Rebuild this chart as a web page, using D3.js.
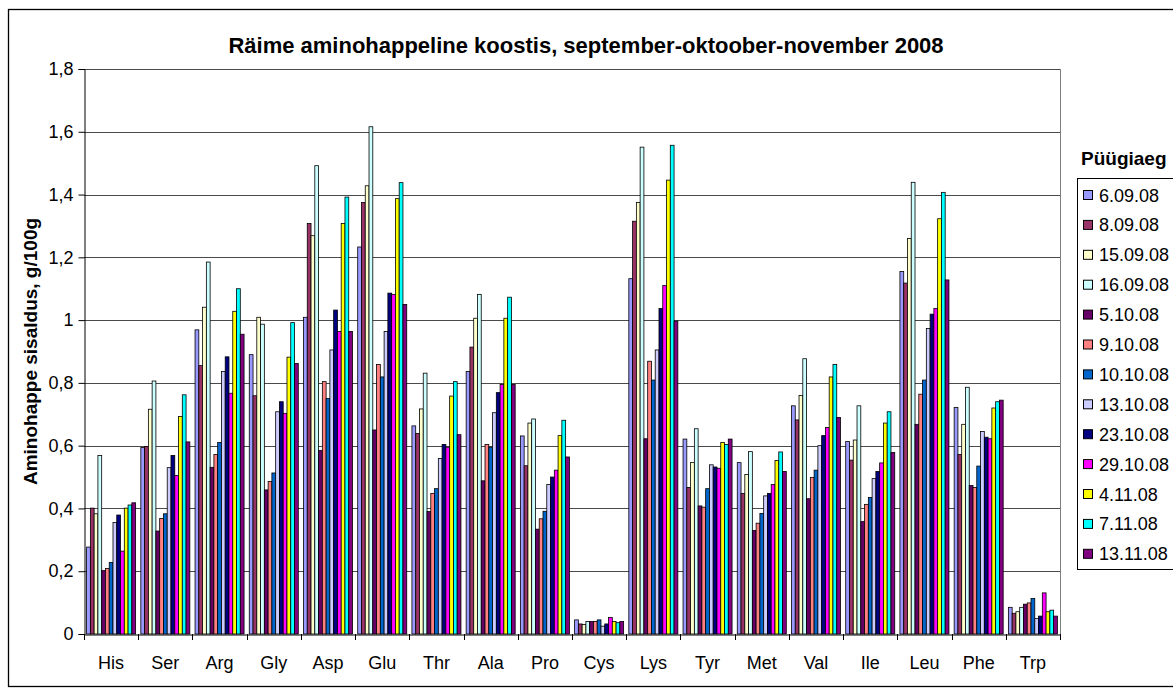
<!DOCTYPE html>
<html><head><meta charset="utf-8">
<script src="https://cdn.jsdelivr.net/npm/d3@7"></script>
<style>body{margin:0;background:#fff}svg{display:block}text{font-family:"Liberation Sans",Arial,sans-serif}</style>
</head><body><svg id="c" width="1173" height="695"></svg>
<script>
const categories = ["His","Ser","Arg","Gly","Asp","Glu","Thr","Ala","Pro","Cys","Lys","Tyr","Met","Val","Ile","Leu","Phe","Trp"];
const seriesNames = ["6.09.08","8.09.08","15.09.08","16.09.08","5.10.08","9.10.08","10.10.08","13.10.08","23.10.08","29.10.08","4.11.08","7.11.08","13.11.08"];
const seriesColors = ["#9999FF","#993366","#FFFFCC","#CCFFFF","#660066","#FF8080","#0066CC","#CCCCFF","#000080","#FF00FF","#FFFF00","#00FFFF","#800080"];
const yTicks = [0,0.2,0.4,0.6,0.8,1,1.2,1.4,1.6,1.8];

const s_06_09 = [0.277,0.594,0.969,0.890,1.009,1.233,0.663,0.836,0.631,0.045,1.132,0.621,0.546,0.727,0.613,1.155,0.722,0.085];
const s_08_09 = [0.401,0.597,0.855,0.759,1.308,1.375,0.639,0.914,0.536,0.032,1.315,0.467,0.448,0.682,0.554,1.118,0.572,0.066];
const s_15_09 = [0.383,0.716,1.041,1.009,1.269,1.428,0.717,1.006,0.672,0.030,1.375,0.546,0.508,0.760,0.618,1.260,0.668,0.071];
const s_16_09 = [0.569,0.806,1.185,0.987,1.492,1.616,0.831,1.082,0.685,0.040,1.551,0.654,0.581,0.877,0.727,1.439,0.786,0.085];
const s_05_10 = [0.202,0.328,0.531,0.459,0.585,0.650,0.390,0.488,0.334,0.040,0.622,0.408,0.330,0.431,0.358,0.668,0.473,0.095];
const s_09_10 = [0.209,0.368,0.572,0.486,0.804,0.859,0.448,0.604,0.367,0.040,0.869,0.404,0.353,0.499,0.413,0.764,0.467,0.099];
const s_10_10 = [0.228,0.383,0.610,0.513,0.750,0.819,0.463,0.595,0.391,0.045,0.809,0.463,0.384,0.522,0.435,0.809,0.535,0.113];
const s_13_10 = [0.355,0.530,0.836,0.708,0.905,0.964,0.559,0.705,0.476,0.025,0.905,0.539,0.440,0.600,0.495,0.973,0.645,0.049];
const s_23_10 = [0.379,0.569,0.883,0.740,1.032,1.086,0.604,0.769,0.500,0.032,1.037,0.532,0.448,0.632,0.518,1.019,0.627,0.057];
const s_29_10 = [0.264,0.505,0.767,0.703,0.964,1.082,0.595,0.795,0.522,0.053,1.110,0.528,0.476,0.658,0.545,1.037,0.622,0.131];
const s_04_11 = [0.401,0.693,1.028,0.882,1.308,1.387,0.758,1.006,0.632,0.040,1.446,0.610,0.553,0.819,0.672,1.323,0.720,0.071];
const s_07_11 = [0.411,0.762,1.100,0.992,1.392,1.438,0.804,1.073,0.681,0.036,1.557,0.604,0.580,0.859,0.708,1.407,0.740,0.076];
const s_13_11 = [0.418,0.612,0.955,0.862,0.964,1.050,0.635,0.795,0.564,0.040,0.997,0.621,0.518,0.690,0.578,1.128,0.745,0.057];
const seriesValues = [s_06_09,s_08_09,s_15_09,s_16_09,s_05_10,s_09_10,s_10_10,s_13_10,s_23_10,s_29_10,s_04_11,s_07_11,s_13_11];

const svg = d3.select("#c");
const L = 84, R = 1060, T = 69, B = 634;

// outer chart border
svg.append("rect").attr("x",8.5).attr("y",9.5).attr("width",1200).attr("height",677)
  .attr("fill","#fff").attr("stroke","#000").attr("stroke-width",1.3);

const x0 = d3.scaleBand().domain(categories).range([L,R]).padding(0);
const x1 = d3.scaleBand().domain(seriesNames).range([0,x0.bandwidth()]).paddingInner(0).paddingOuter(0.69);
const y = d3.scaleLinear().domain([0,1.8]).range([B,T]);
const fmt = d => d===0 ? "0" : String(+d.toFixed(1)).replace(".",",");

// gridlines
svg.append("g").selectAll("line").data(yTicks.filter(d=>d>0)).join("line")
  .attr("x1",L).attr("x2",R).attr("y1",d=>Math.round(y(d))+0.5).attr("y2",d=>Math.round(y(d))+0.5)
  .attr("stroke","#4a4a4a").attr("stroke-width",1);
// plot right border
svg.append("line").attr("x1",R+0.5).attr("x2",R+0.5).attr("y1",T).attr("y2",B).attr("stroke","#808080");

// bars
const data = [];
categories.forEach((c,ci)=>seriesNames.forEach((s,si)=>data.push({c,s,si,v:seriesValues[si][ci]})));
svg.append("g").selectAll("rect").data(data).join("rect")
  .attr("x",d=>x0(d.c)+x1(d.s))
  .attr("y",d=>y(d.v))
  .attr("width",x1.bandwidth())
  .attr("height",d=>B-y(d.v))
  .attr("fill",d=>seriesColors[d.si])
  .attr("stroke","#000").attr("stroke-width",0.8);

// y axis
const yAxis = d3.axisLeft(y).tickValues(yTicks).tickFormat(fmt).tickSize(6).tickPadding(5);
const gy = svg.append("g").attr("transform",`translate(${L+0.5},0)`).call(yAxis);
gy.select(".domain").attr("stroke","#000");
gy.selectAll("line").attr("stroke","#000");
gy.selectAll("text").attr("font-size",18).attr("fill","#000").attr("font-family","Liberation Sans, Arial, sans-serif");

// x axis
const xAxis = d3.axisBottom(x0).tickSize(0).tickPadding(22);
const gx = svg.append("g").attr("transform",`translate(0,${B+0.5})`).call(xAxis);
gx.select(".domain").attr("stroke","#000");
gx.selectAll("text").attr("font-size",18).attr("fill","#000").attr("font-family","Liberation Sans, Arial, sans-serif");
// x category separators (ticks)
const sepPos = categories.map(c=>x0(c)).concat([R]);
svg.append("g").selectAll("line").data(sepPos).join("line")
  .attr("x1",d=>Math.round(d)+0.5).attr("x2",d=>Math.round(d)+0.5).attr("y1",B).attr("y2",B+6).attr("stroke","#000");

// title
svg.append("text").attr("x",586).attr("y",53).attr("text-anchor","middle")
  .attr("font-size",22).attr("font-weight","bold").text("Räime aminohappeline koostis, september-oktoober-november 2008");
// y title
svg.append("text").attr("transform",`translate(37,${(T+B)/2}) rotate(-90)`).attr("text-anchor","middle")
  .attr("font-size",19).attr("font-weight","bold").text("Aminohappe sisaldus, g/100g");

// legend
svg.append("text").attr("x",1081).attr("y",165).attr("font-size",19).attr("font-weight","bold").text("Püügiaeg");
svg.append("rect").attr("x",1077.5).attr("y",178.5).attr("width",200).attr("height",391)
  .attr("fill","#fff").attr("stroke","#000").attr("stroke-width",1);
const lg = svg.append("g").selectAll("g").data(seriesNames).join("g")
  .attr("transform",(d,i)=>`translate(1083,${195+i*29.9})`);
lg.append("rect").attr("x",0.5).attr("y",-4.5).attr("width",9).attr("height",9)
  .attr("fill",(d,i)=>seriesColors[i]).attr("stroke","#000").attr("stroke-width",1);
lg.append("text").attr("x",16).attr("y",6.5).attr("font-size",18).text(d=>d);
</script></body></html>
